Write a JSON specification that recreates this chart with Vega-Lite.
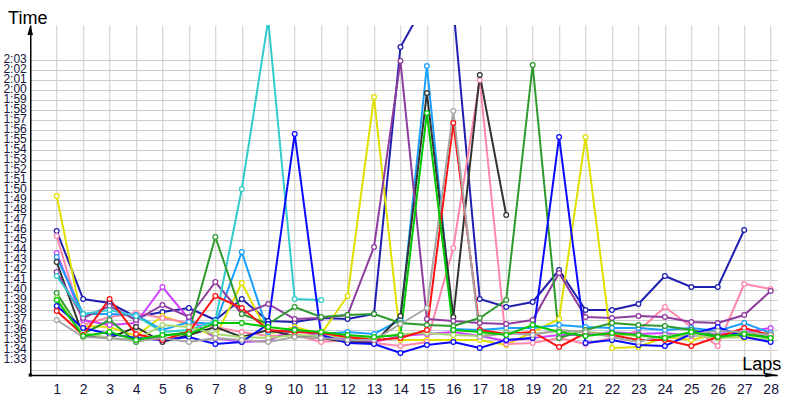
{
  "$schema": "https://vega.github.io/schema/vega-lite/v6.json",
  "width": 747,
  "height": 350,
  "autosize": {"type": "none"},
  "padding": {"left": 30.25, "top": 25, "right": 22.75, "bottom": 25},
  "background": "white",
  "config": {"view": {"stroke": null}, "axis": {"labelOverlap": false, "labelBound": false, "labelFlush": false}},
  "datasets": {
    "laps": [
      {"d":"A","l":1,"t":105.9},{"d":"A","l":2,"t":99.1},{"d":"A","l":3,"t":98.7},{"d":"A","l":4,"t":97.3},{"d":"A","l":5,"t":97.8},{"d":"A","l":6,"t":98.2},{"d":"A","l":7,"t":97.0},{"d":"A","l":8,"t":99.1},{"d":"A","l":9,"t":96.9},{"d":"A","l":10,"t":96.8},{"d":"A","l":11,"t":97.2},{"d":"A","l":12,"t":97.1},{"d":"A","l":13,"t":97.6},{"d":"A","l":14,"t":124.3},{"d":"A","l":15,"t":129.0},{"d":"A","l":16,"t":128.3},{"d":"A","l":17,"t":99.1},{"d":"A","l":18,"t":98.3},{"d":"A","l":19,"t":98.8},{"d":"A","l":20,"t":102.0},{"d":"A","l":21,"t":98.0},{"d":"A","l":22,"t":98.0},{"d":"A","l":23,"t":98.6},{"d":"A","l":24,"t":101.4},{"d":"A","l":25,"t":100.3},{"d":"A","l":26,"t":100.3},{"d":"A","l":27,"t":106.0},
      {"d":"B","l":1,"t":109.4},{"d":"B","l":2,"t":96.4},{"d":"B","l":3,"t":96.3},{"d":"B","l":4,"t":95.4},{"d":"B","l":5,"t":97.4},{"d":"B","l":6,"t":96.5},{"d":"B","l":7,"t":95.3},{"d":"B","l":8,"t":100.7},{"d":"B","l":9,"t":95.6},{"d":"B","l":10,"t":96.3},{"d":"B","l":11,"t":95.6},{"d":"B","l":12,"t":99.4},{"d":"B","l":13,"t":119.3},{"d":"B","l":14,"t":95.0},{"d":"B","l":15,"t":95.0},{"d":"B","l":16,"t":95.0},{"d":"B","l":17,"t":95.0},{"d":"B","l":18,"t":94.5},{"d":"B","l":19,"t":95.8},{"d":"B","l":20,"t":97.1},{"d":"B","l":21,"t":115.3},{"d":"B","l":22,"t":94.2},{"d":"B","l":23,"t":94.3},{"d":"B","l":24,"t":95.3},{"d":"B","l":25,"t":95.0},{"d":"B","l":26,"t":95.6},{"d":"B","l":27,"t":95.2},{"d":"B","l":28,"t":95.8},
      {"d":"C","l":1,"t":105.4},{"d":"C","l":2,"t":96.5},{"d":"C","l":3,"t":97.3},{"d":"C","l":4,"t":97.7},{"d":"C","l":5,"t":97.2},{"d":"C","l":6,"t":96.7},{"d":"C","l":7,"t":96.3},{"d":"C","l":8,"t":95.8},{"d":"C","l":9,"t":95.4},{"d":"C","l":10,"t":95.5},{"d":"C","l":11,"t":94.8},{"d":"C","l":12,"t":95.0},{"d":"C","l":13,"t":94.7},{"d":"C","l":14,"t":94.4},{"d":"C","l":15,"t":94.8},{"d":"C","l":16,"t":104.2},{"d":"C","l":17,"t":121.0},{"d":"C","l":18,"t":94.6},{"d":"C","l":19,"t":94.7},{"d":"C","l":20,"t":95.2},{"d":"C","l":21,"t":94.6},{"d":"C","l":22,"t":95.2},{"d":"C","l":23,"t":95.9},{"d":"C","l":24,"t":98.3},{"d":"C","l":25,"t":96.3},{"d":"C","l":26,"t":94.4},{"d":"C","l":27,"t":100.6},{"d":"C","l":28,"t":100.1},
      {"d":"D","l":1,"t":103.7},{"d":"D","l":2,"t":97.0},{"d":"D","l":3,"t":96.5},{"d":"D","l":4,"t":96.7},{"d":"D","l":5,"t":100.3},{"d":"D","l":6,"t":97.1},{"d":"D","l":7,"t":95.2},{"d":"D","l":8,"t":94.8},{"d":"D","l":9,"t":94.9},{"d":"D","l":10,"t":96.1},{"d":"D","l":11,"t":95.3},{"d":"D","l":12,"t":95.1},{"d":"D","l":13,"t":94.8},{"d":"D","l":14,"t":95.4},{"d":"D","l":15,"t":95.6},{"d":"D","l":16,"t":95.8},{"d":"D","l":17,"t":95.4},{"d":"D","l":18,"t":94.9},{"d":"D","l":19,"t":95.2},{"d":"D","l":20,"t":95.5},{"d":"D","l":21,"t":95.5},{"d":"D","l":22,"t":95.8},{"d":"D","l":23,"t":95.6},{"d":"D","l":24,"t":95.7},{"d":"D","l":25,"t":95.4},{"d":"D","l":26,"t":95.6},{"d":"D","l":27,"t":95.8},{"d":"D","l":28,"t":96.2},
      {"d":"E","l":1,"t":103.3},{"d":"E","l":2,"t":97.6},{"d":"E","l":3,"t":97.6},{"d":"E","l":4,"t":97.5},{"d":"E","l":5,"t":96.0},{"d":"E","l":6,"t":96.8},{"d":"E","l":7,"t":96.6},{"d":"E","l":8,"t":103.8},{"d":"E","l":9,"t":95.8},{"d":"E","l":10,"t":96.0},{"d":"E","l":11,"t":95.6},{"d":"E","l":12,"t":95.8},{"d":"E","l":13,"t":95.6},{"d":"E","l":14,"t":97.0},{"d":"E","l":15,"t":122.4},{"d":"E","l":16,"t":96.1},{"d":"E","l":17,"t":96.0},{"d":"E","l":18,"t":96.2},{"d":"E","l":19,"t":96.2},{"d":"E","l":20,"t":96.5},{"d":"E","l":21,"t":96.3},{"d":"E","l":22,"t":96.2},{"d":"E","l":23,"t":96.2},{"d":"E","l":24,"t":96.0},{"d":"E","l":25,"t":96.2},{"d":"E","l":26,"t":95.9},{"d":"E","l":27,"t":96.7},{"d":"E","l":28,"t":95.7},
      {"d":"F","l":1,"t":102.8},{"d":"F","l":2,"t":95.4},{"d":"F","l":3,"t":95.2},{"d":"F","l":4,"t":96.3},{"d":"F","l":5,"t":94.8},{"d":"F","l":6,"t":95.5},{"d":"F","l":7,"t":96.3},{"d":"F","l":8,"t":95.3},{"d":"F","l":9,"t":96.0},{"d":"F","l":10,"t":95.4},{"d":"F","l":11,"t":95.2},{"d":"F","l":12,"t":94.8},{"d":"F","l":13,"t":94.7},{"d":"F","l":14,"t":97.4},{"d":"F","l":15,"t":119.7},{"d":"F","l":16,"t":97.3},{"d":"F","l":17,"t":121.5},{"d":"F","l":18,"t":107.5},
      {"d":"G","l":1,"t":101.8},{"d":"G","l":2,"t":97.2},{"d":"G","l":3,"t":98.4},{"d":"G","l":4,"t":97.0},{"d":"G","l":5,"t":98.5},{"d":"G","l":6,"t":97.3},{"d":"G","l":7,"t":100.8},{"d":"G","l":8,"t":97.6},{"d":"G","l":9,"t":98.6},{"d":"G","l":10,"t":97.1},{"d":"G","l":11,"t":97.2},{"d":"G","l":12,"t":97.5},{"d":"G","l":13,"t":104.3},{"d":"G","l":14,"t":122.9},{"d":"G","l":15,"t":97.1},{"d":"G","l":16,"t":96.9},{"d":"G","l":17,"t":96.7},{"d":"G","l":18,"t":96.6},{"d":"G","l":19,"t":97.0},{"d":"G","l":20,"t":101.7},{"d":"G","l":21,"t":97.3},{"d":"G","l":22,"t":97.2},{"d":"G","l":23,"t":97.4},{"d":"G","l":24,"t":97.3},{"d":"G","l":25,"t":96.8},{"d":"G","l":26,"t":96.7},{"d":"G","l":27,"t":97.5},{"d":"G","l":28,"t":99.9},
      {"d":"H","l":1,"t":101.4},{"d":"H","l":2,"t":97.6},{"d":"H","l":3,"t":98.0},{"d":"H","l":4,"t":97.4},{"d":"H","l":5,"t":95.8},{"d":"H","l":6,"t":96.0},{"d":"H","l":7,"t":96.9},{"d":"H","l":8,"t":110.1},{"d":"H","l":9,"t":127.0},{"d":"H","l":10,"t":99.1},{"d":"H","l":11,"t":99.0},
      {"d":"I","l":1,"t":99.7},{"d":"I","l":2,"t":95.6},{"d":"I","l":3,"t":97.0},{"d":"I","l":4,"t":94.8},{"d":"I","l":5,"t":95.4},{"d":"I","l":6,"t":95.8},{"d":"I","l":7,"t":105.3},{"d":"I","l":8,"t":97.6},{"d":"I","l":9,"t":96.6},{"d":"I","l":10,"t":98.3},{"d":"I","l":11,"t":97.3},{"d":"I","l":12,"t":97.5},{"d":"I","l":13,"t":97.6},{"d":"I","l":14,"t":96.7},{"d":"I","l":15,"t":96.5},{"d":"I","l":16,"t":96.4},{"d":"I","l":17,"t":97.2},{"d":"I","l":18,"t":99.0},{"d":"I","l":19,"t":122.5},{"d":"I","l":20,"t":95.2},{"d":"I","l":21,"t":96.0},{"d":"I","l":22,"t":96.7},{"d":"I","l":23,"t":96.5},{"d":"I","l":24,"t":96.4},{"d":"I","l":25,"t":96.0},{"d":"I","l":26,"t":95.4},{"d":"I","l":27,"t":95.6},{"d":"I","l":28,"t":95.3},
      {"d":"J","l":1,"t":99.2},{"d":"J","l":2,"t":95.7},{"d":"J","l":3,"t":95.2},{"d":"J","l":4,"t":95.0},{"d":"J","l":5,"t":96.5},{"d":"J","l":6,"t":96.3},{"d":"J","l":7,"t":95.6},{"d":"J","l":8,"t":95.3},{"d":"J","l":9,"t":95.2},{"d":"J","l":10,"t":95.5},{"d":"J","l":11,"t":95.4},{"d":"J","l":12,"t":95.3},{"d":"J","l":13,"t":95.2},{"d":"J","l":14,"t":95.6},{"d":"J","l":15,"t":95.7},{"d":"J","l":16,"t":95.5},{"d":"J","l":17,"t":95.4},{"d":"J","l":18,"t":95.8},{"d":"J","l":19,"t":95.6},{"d":"J","l":20,"t":95.9},{"d":"J","l":21,"t":95.8},{"d":"J","l":22,"t":95.6},{"d":"J","l":23,"t":95.4},{"d":"J","l":24,"t":95.2},{"d":"J","l":25,"t":95.5},{"d":"J","l":26,"t":95.2},{"d":"J","l":27,"t":95.3},{"d":"J","l":28,"t":95.0},
      {"d":"K","l":1,"t":98.4},{"d":"K","l":2,"t":96.2},{"d":"K","l":3,"t":95.6},{"d":"K","l":4,"t":95.2},{"d":"K","l":5,"t":95.0},{"d":"K","l":6,"t":95.3},{"d":"K","l":7,"t":94.6},{"d":"K","l":8,"t":94.8},{"d":"K","l":9,"t":96.6},{"d":"K","l":10,"t":115.6},{"d":"K","l":11,"t":95.5},{"d":"K","l":12,"t":94.7},{"d":"K","l":13,"t":94.6},{"d":"K","l":14,"t":93.7},{"d":"K","l":15,"t":94.5},{"d":"K","l":16,"t":94.8},{"d":"K","l":17,"t":94.2},{"d":"K","l":18,"t":95.0},{"d":"K","l":19,"t":95.2},{"d":"K","l":20,"t":115.3},{"d":"K","l":21,"t":94.7},{"d":"K","l":22,"t":95.0},{"d":"K","l":23,"t":94.5},{"d":"K","l":24,"t":94.4},{"d":"K","l":25,"t":95.6},{"d":"K","l":26,"t":96.3},{"d":"K","l":27,"t":95.3},{"d":"K","l":28,"t":94.8},
      {"d":"L","l":1,"t":97.9},{"d":"L","l":2,"t":95.5},{"d":"L","l":3,"t":99.1},{"d":"L","l":4,"t":95.6},{"d":"L","l":5,"t":95.0},{"d":"L","l":6,"t":95.8},{"d":"L","l":7,"t":99.4},{"d":"L","l":8,"t":98.2},{"d":"L","l":9,"t":96.0},{"d":"L","l":10,"t":95.8},{"d":"L","l":11,"t":95.7},{"d":"L","l":12,"t":95.3},{"d":"L","l":13,"t":95.0},{"d":"L","l":14,"t":95.2},{"d":"L","l":15,"t":96.0},{"d":"L","l":16,"t":116.7},{"d":"L","l":17,"t":96.0},{"d":"L","l":18,"t":95.6},{"d":"L","l":19,"t":95.8},{"d":"L","l":20,"t":94.3},{"d":"L","l":21,"t":95.7},{"d":"L","l":22,"t":95.5},{"d":"L","l":23,"t":95.0},{"d":"L","l":24,"t":95.0},{"d":"L","l":25,"t":94.4},{"d":"L","l":26,"t":95.3},{"d":"L","l":27,"t":96.2},{"d":"L","l":28,"t":95.5},
      {"d":"M","l":1,"t":97.0},{"d":"M","l":2,"t":95.3},{"d":"M","l":3,"t":95.2},{"d":"M","l":4,"t":94.9},{"d":"M","l":5,"t":95.2},{"d":"M","l":6,"t":94.8},{"d":"M","l":7,"t":95.2},{"d":"M","l":8,"t":95.0},{"d":"M","l":9,"t":94.8},{"d":"M","l":10,"t":95.3},{"d":"M","l":11,"t":95.2},{"d":"M","l":12,"t":95.0},{"d":"M","l":13,"t":95.0},{"d":"M","l":14,"t":96.6},{"d":"M","l":15,"t":98.2},{"d":"M","l":16,"t":117.9},{"d":"M","l":17,"t":95.3},{"d":"M","l":18,"t":95.7},{"d":"M","l":19,"t":95.5},{"d":"M","l":20,"t":96.0},{"d":"M","l":21,"t":95.8},{"d":"M","l":22,"t":95.3},{"d":"M","l":23,"t":94.8},{"d":"M","l":24,"t":95.5},{"d":"M","l":25,"t":95.6},{"d":"M","l":26,"t":95.9},{"d":"M","l":27,"t":95.8},{"d":"M","l":28,"t":95.5},
      {"d":"N","l":1,"t":99.0},{"d":"N","l":2,"t":95.4},{"d":"N","l":3,"t":95.8},{"d":"N","l":4,"t":95.0},{"d":"N","l":5,"t":95.5},{"d":"N","l":6,"t":95.6},{"d":"N","l":7,"t":96.7},{"d":"N","l":8,"t":96.7},{"d":"N","l":9,"t":96.3},{"d":"N","l":10,"t":96.0},{"d":"N","l":11,"t":95.8},{"d":"N","l":12,"t":95.5},{"d":"N","l":13,"t":95.3},{"d":"N","l":14,"t":95.5},{"d":"N","l":15,"t":117.7},{"d":"N","l":16,"t":96.0},{"d":"N","l":17,"t":95.8},{"d":"N","l":18,"t":95.5},{"d":"N","l":19,"t":96.5},{"d":"N","l":20,"t":95.8},{"d":"N","l":21,"t":95.4},{"d":"N","l":22,"t":95.7},{"d":"N","l":23,"t":95.5},{"d":"N","l":24,"t":95.2},{"d":"N","l":25,"t":95.8},{"d":"N","l":26,"t":95.3},{"d":"N","l":27,"t":95.6},{"d":"N","l":28,"t":95.2}
    ]
  },
  "layer": [
    {
      "data": {"name": "laps"},
      "mark": {"type": "line", "strokeWidth": 2, "clip": true},
      "encoding": {
        "x": {
          "field": "l", "type": "quantitative",
          "scale": {"domain": [0, 28.25], "nice": false, "zero": false},
          "axis": {
            "values": [1,2,3,4,5,6,7,8,9,10,11,12,13,14,15,16,17,18,19,20,21,22,23,24,25,26,27,28],
            "tickCount": 200,
            "format": "d", "labelFont": "Liberation Sans", "labelFontSize": 14, "labelColor": "#14143c",
            "labelPadding": 18, "labelBaseline": "alphabetic", "ticks": false, "tickSize": 0, "labelOverlap": false,
            "domainColor": "#000000", "domainWidth": 1.5,
            "grid": true, "gridColor": "#cccccc", "gridWidth": 1,
            "title": "Laps", "titleFont": "Liberation Sans", "titleFontSize": 18, "titleFontWeight": "normal", "titleColor": "#000000",
            "titleX": 731, "titleY": -6, "titleAlign": "center", "titleBaseline": "alphabetic", "titleAngle": 0
          }
        },
        "y": {
          "field": "t", "type": "quantitative",
          "scale": {"domain": [91.5, 126.5], "nice": false, "zero": false},
          "axis": {
            "values": [92,93,94,95,96,97,98,99,100,101,102,103,104,105,106,107,108,109,110,111,112,113,114,115,116,117,118,119,120,121,122,123],
            "tickCount": 200,
            "labelExpr": "datum.value < 93 ? '' : floor(datum.value/60) + ':' + (datum.value % 60 < 10 ? '0' : '') + (datum.value % 60)",
            "labelFont": "Liberation Sans", "labelFontSize": 12, "labelColor": "#14143c",
            "labelAlign": "right", "labelBaseline": "alphabetic", "labelOffset": 2.5, "labelPadding": 4,
            "ticks": false, "tickSize": 0, "labelOverlap": false,
            "domainColor": "#000000", "domainWidth": 1.5,
            "grid": true, "gridColor": "#cccccc", "gridWidth": 1,
            "title": "Time", "titleFont": "Liberation Sans", "titleFontSize": 18, "titleFontWeight": "normal", "titleColor": "#000000",
            "titleX": -3, "titleY": -2, "titleAlign": "center", "titleBaseline": "alphabetic", "titleAngle": 0
          }
        },
        "detail": {"field": "d"},
        "color": {
          "field": "d", "type": "nominal", "legend": null,
          "scale": {
            "domain": ["A","B","C","D","E","F","G","H","I","J","K","L","M","N"],
            "range": ["#2020b0","#e0e000","#ff88aa","#cc44ff","#1a9fff","#333333","#8e3c9e","#33cccc","#2e9a2e","#a8d870","#0a0aff","#ff1010","#a6a6a6","#00c800"]
          }
        },
        "order": {"field": "l"}
      }
    },
    {
      "data": {"name": "laps"},
      "mark": {"type": "point", "shape": "circle", "filled": true, "fill": "white", "size": 22, "strokeWidth": 1.3, "opacity": 1, "clip": true},
      "encoding": {
        "x": {"field": "l", "type": "quantitative"},
        "y": {"field": "t", "type": "quantitative"},
        "stroke": {
          "field": "d", "type": "nominal", "legend": null,
          "scale": {
            "domain": ["A","B","C","D","E","F","G","H","I","J","K","L","M","N"],
            "range": ["#2020b0","#e0e000","#ff88aa","#cc44ff","#1a9fff","#333333","#8e3c9e","#33cccc","#2e9a2e","#a8d870","#0a0aff","#ff1010","#a6a6a6","#00c800"]
          }
        }
      }
    },
    {
      "data": {"values": [{}]},
      "mark": {"type": "point", "shape": "M0,0L0.56,2L-0.56,2Z", "filled": true, "color": "#000000", "size": 100, "opacity": 1},
      "encoding": {"x": {"datum": 0}, "y": {"datum": 126.5}}
    },
    {
      "data": {"values": [{}]},
      "mark": {"type": "point", "shape": "M0,0L-2.4,-0.46L-2.4,0.46Z", "filled": true, "color": "#000000", "size": 100, "opacity": 1},
      "encoding": {"x": {"datum": 28.25}, "y": {"datum": 91.5}}
    },
    {
      "data": {"values": [{}]},
      "mark": {"type": "point", "shape": "square", "filled": true, "color": "#000000", "size": 10, "opacity": 1},
      "encoding": {"x": {"datum": 0}, "y": {"datum": 91.5}}
    }
  ]
}
